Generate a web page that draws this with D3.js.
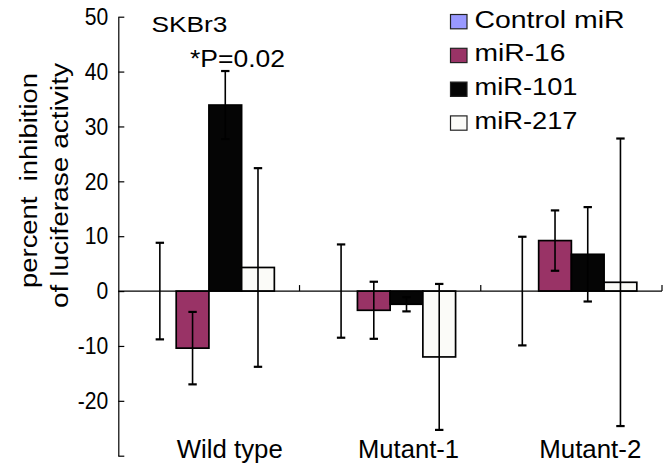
<!DOCTYPE html>
<html lang="en">
<head>
  <meta charset="UTF-8">
  <title>SKBr3 luciferase inhibition</title>
  <script src="https://cdn.jsdelivr.net/npm/d3@7"></script>
</head>

<style>
body { margin: 0; background: white; }
svg { display: block; font-family: "Liberation Sans", Arial, sans-serif; }
</style>

<body>
  <svg width="663" height="464"></svg>

  <script>
    // data
    var categories = ["Wild type", "Mutant-1", "Mutant-2"]
    var series = ["Control miR", "miR-16", "miR-101", "miR-217"]
    var controlVals = [0, 0, 0]
    var controlErr = [8.8, 8.5, 9.9]
    var mir16Vals = [-10.4, -3.5, 9.2]
    var mir16Err = [6.6, 5.2, 5.5]
    var mir101Vals = [33.9, -2.4, 6.7]
    var mir101Err = [6.2, 1.3, 8.6]
    var mir217Vals = [4.3, -12.0, 1.6]
    var mir217Err = [18.1, 13.3, 26.2]
    var yTicks = [-30, -20, -10, 0, 10, 20, 30, 40, 50]

    var vals = [controlVals, mir16Vals, mir101Vals, mir217Vals]
    var errs = [controlErr, mir16Err, mir101Err, mir217Err]
    var colors = ["#9999ff", "#993366", "#050505", "#fbfbf8"]

    // one row per bar
    var rows = []
    series.forEach((s, i) => {
      categories.forEach((c, j) => {
        rows.push({series: s, cat: c, value: vals[i][j], err: errs[i][j], color: colors[i]})
      })
    })

    var svg = d3.select("svg")

    var y = d3.scaleLinear().domain([-30, 50]).range([455.7, 16.7])
    var x0 = d3.scaleBand().domain(categories).range([118.3, 662])
    var x1 = d3.scaleBand().domain(series).range([0, x0.bandwidth()]).paddingOuter(0.77)

    // squeeze/stretch text to the width seen in the picture
    function fit(sel, w) {
      sel.attr("textLength", w).attr("lengthAdjust", "spacingAndGlyphs")
    }

    // bars
    svg.append("g")
      .selectAll("rect")
      .data(rows)
      .join("rect")
      .attr("x", d => x0(d.cat) + x1(d.series))
      .attr("width", x1.bandwidth())
      .attr("y", d => y(Math.max(0, d.value)))
      .attr("height", d => Math.abs(y(d.value) - y(0)))
      .attr("fill", d => d.color)
      .attr("stroke", "#000")
      .attr("stroke-width", 1.7)

    // x axis line at zero with category separators
    var xa = svg.append("g").attr("stroke", "#000").attr("stroke-width", 1.2)
    xa.append("line")
      .attr("x1", x0.range()[0]).attr("x2", x0.range()[1])
      .attr("y1", y(0)).attr("y2", y(0))
    xa.selectAll(".sep")
      .data(categories)
      .join("line")
      .attr("x1", d => x0(d) + x0.bandwidth()).attr("x2", d => x0(d) + x0.bandwidth())
      .attr("y1", y(0)).attr("y2", y(0) - 6)

    // error bars
    var eb = svg.append("g")
      .attr("stroke", "#000")
      .selectAll("g")
      .data(rows)
      .join("g")
      .attr("transform", d => "translate(" + (x0(d.cat) + x1(d.series) + x1.bandwidth() / 2) + ",0)")
    eb.append("line")
      .attr("y1", d => y(d.value + d.err)).attr("y2", d => y(d.value - d.err))
      .attr("stroke-width", 1.6)
    eb.append("line")
      .attr("x1", -4.2).attr("x2", 4.2)
      .attr("y1", d => y(d.value + d.err)).attr("y2", d => y(d.value + d.err))
      .attr("stroke-width", 2.2)
    eb.append("line")
      .attr("x1", -4.2).attr("x2", 4.2)
      .attr("y1", d => y(d.value - d.err)).attr("y2", d => y(d.value - d.err))
      .attr("stroke-width", 2.2)

    // y axis
    var ya = svg.append("g")
      .attr("transform", "translate(118.3,0)")
      .call(d3.axisLeft(y).tickValues(yTicks).tickSizeInner(-6).tickSizeOuter(0).tickPadding(10)
        .tickFormat(d => d === -30 ? "" : d))
    ya.select(".domain").attr("stroke-width", 1.2)
    ya.selectAll(".tick line").attr("stroke-width", 1.2)
    ya.selectAll(".tick text")
      .attr("font-size", 24)
      .attr("font-family", null)
      .attr("fill", "#000")
      .each(function() {
        var n = this.getComputedTextLength()
        if (n > 0) fit(d3.select(this), n * 0.88)
      })

    // category labels
    var catW = [106, 101, 102]
    svg.append("g")
      .selectAll("text")
      .data(categories)
      .join("text")
      .attr("x", d => x0(d) + 58.5)
      .attr("y", 457.5)
      .attr("font-size", 25)
      .text(d => d)
      .each(function(d, i) { fit(d3.select(this), catW[i]) })

    // y axis title, two lines
    var yTitle = [
      {text: "percent  inhibition", x: 36.8, cy: 180.5, w: 215},
      {text: "of luciferase activity", x: 67.5, cy: 185.5, w: 245}
    ]
    svg.append("g")
      .selectAll("text")
      .data(yTitle)
      .join("text")
      .attr("transform", d => "translate(" + d.x + "," + d.cy + ") rotate(-90)")
      .attr("text-anchor", "middle")
      .attr("font-size", 23)
      .attr("xml:space", "preserve")
      .style("white-space", "pre")
      .text(d => d.text)
      .each(function(d) { fit(d3.select(this), d.w) })

    // panel title and p value
    svg.append("text").attr("x", 151.5).attr("y", 31.5).attr("font-size", 22)
      .text("SKBr3").call(fit, 76)
    svg.append("text").attr("x", 190).attr("y", 66.5).attr("font-size", 24)
      .text("*P=0.02").call(fit, 95)

    // legend
    var legW = [150, 91, 103, 103]
    var leg = svg.append("g")
      .selectAll("g")
      .data(series)
      .join("g")
      .attr("transform", (d, i) => "translate(450.5," + (14.5 + i * 33.8) + ")")
    leg.append("rect")
      .attr("width", 16.5).attr("height", 14.3)
      .attr("fill", (d, i) => colors[i])
      .attr("stroke", "#222").attr("stroke-width", 1.2)
    leg.append("text")
      .attr("x", 24).attr("y", 13)
      .attr("font-size", 23)
      .text(d => d)
      .each(function(d, i) { fit(d3.select(this), legW[i]) })
  </script>

</body>
</html>
